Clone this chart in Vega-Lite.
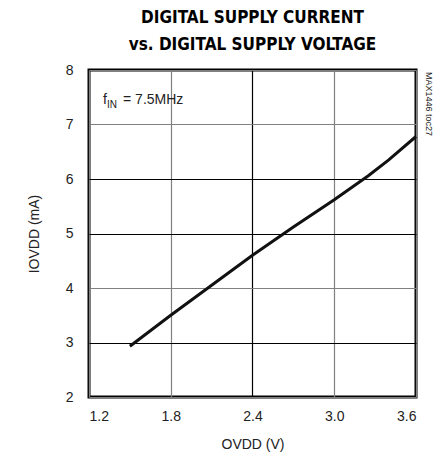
{
  "$schema": "https://vega.github.io/schema/vega-lite/v6.json",
  "autosize": "none",
  "width": 327,
  "height": 327,
  "padding": {"left": 89, "top": 70, "right": 28, "bottom": 60},
  "background": "white",
  "config": {
    "font": "Liberation Sans",
    "view": {"stroke": "black", "strokeWidth": 3},
    "axis": {"labelFont": "Liberation Sans", "titleFont": "Liberation Sans", "labelFontSize": 14, "titleFontSize": 14, "labelColor": "#222", "titleColor": "#222", "titleFontWeight": "normal", "domain": false, "ticks": false}
  },
  "title": {
    "text": ["DIGITAL SUPPLY CURRENT", "vs. DIGITAL SUPPLY VOLTAGE"],
    "font": "DejaVu Sans Condensed",
    "fontSize": 17,
    "fontWeight": "bold",
    "lineHeight": 27,
    "offset": 9,
    "color": "black"
  },
  "layer": [
    {
      "data": {"values": [
        {"v": 1.5, "i": 2.93},
        {"v": 1.8, "i": 3.5},
        {"v": 2.1, "i": 4.05},
        {"v": 2.4, "i": 4.6},
        {"v": 2.7, "i": 5.12},
        {"v": 3.0, "i": 5.62},
        {"v": 3.25, "i": 6.06},
        {"v": 3.4, "i": 6.35},
        {"v": 3.6, "i": 6.78}
      ]},
      "mark": {"type": "line", "color": "#111", "strokeWidth": 3},
      "encoding": {
        "x": {"field": "v", "type": "quantitative", "scale": {"domain": [1.2, 3.6], "nice": false},
          "axis": {"values": [1.2, 1.8, 2.4, 3.0, 3.6], "format": ".1f", "title": "OVDD (V)", "labelPadding": 12, "titlePadding": 14,
            "gridColor": {"condition": {"test": "datum.value == 2.4", "value": "black"}, "value": "#808080"}, "gridWidth": 1.2, "gridOpacity": 1}},
        "y": {"field": "i", "type": "quantitative", "scale": {"domain": [2, 8], "nice": false},
          "axis": {"values": [2, 3, 4, 5, 6, 7, 8], "format": "d", "title": "IOVDD (mA)", "labelPadding": 16, "titlePadding": 24,
            "gridColor": {"condition": {"test": "datum.value == 6 || datum.value == 5 || datum.value == 3", "value": "black"}, "value": "#808080"}, "gridWidth": 1.2, "gridOpacity": 1}}
      }
    },
    {
      "data": {"values": [{"v": 1.303, "i": 7.376}]},
      "layer": [
        {"mark": {"type": "text", "text": "f", "align": "left", "baseline": "alphabetic", "fontSize": 14, "color": "#222"},
         "encoding": {"x": {"field": "v", "type": "quantitative"}, "y": {"field": "i", "type": "quantitative"}}},
        {"mark": {"type": "text", "text": "IN", "align": "left", "baseline": "alphabetic", "fontSize": 10, "dx": 4, "dy": 4, "color": "#222"},
         "encoding": {"x": {"field": "v", "type": "quantitative"}, "y": {"field": "i", "type": "quantitative"}}},
        {"mark": {"type": "text", "text": "= 7.5MHz", "align": "left", "baseline": "alphabetic", "fontSize": 14, "dx": 20, "color": "#222"},
         "encoding": {"x": {"field": "v", "type": "quantitative"}, "y": {"field": "i", "type": "quantitative"}}}
      ]
    },
    {
      "data": {"values": [{"v": 3.6, "i": 8, "t": "MAX1446 toc27"}]},
      "mark": {"type": "text", "angle": 90, "align": "left", "baseline": "bottom", "fontSize": 9, "dx": 2, "dy": -8, "color": "#222", "font": "Liberation Sans"},
      "encoding": {"x": {"field": "v", "type": "quantitative"}, "y": {"field": "i", "type": "quantitative"}, "text": {"field": "t"}}
    }
  ]
}
